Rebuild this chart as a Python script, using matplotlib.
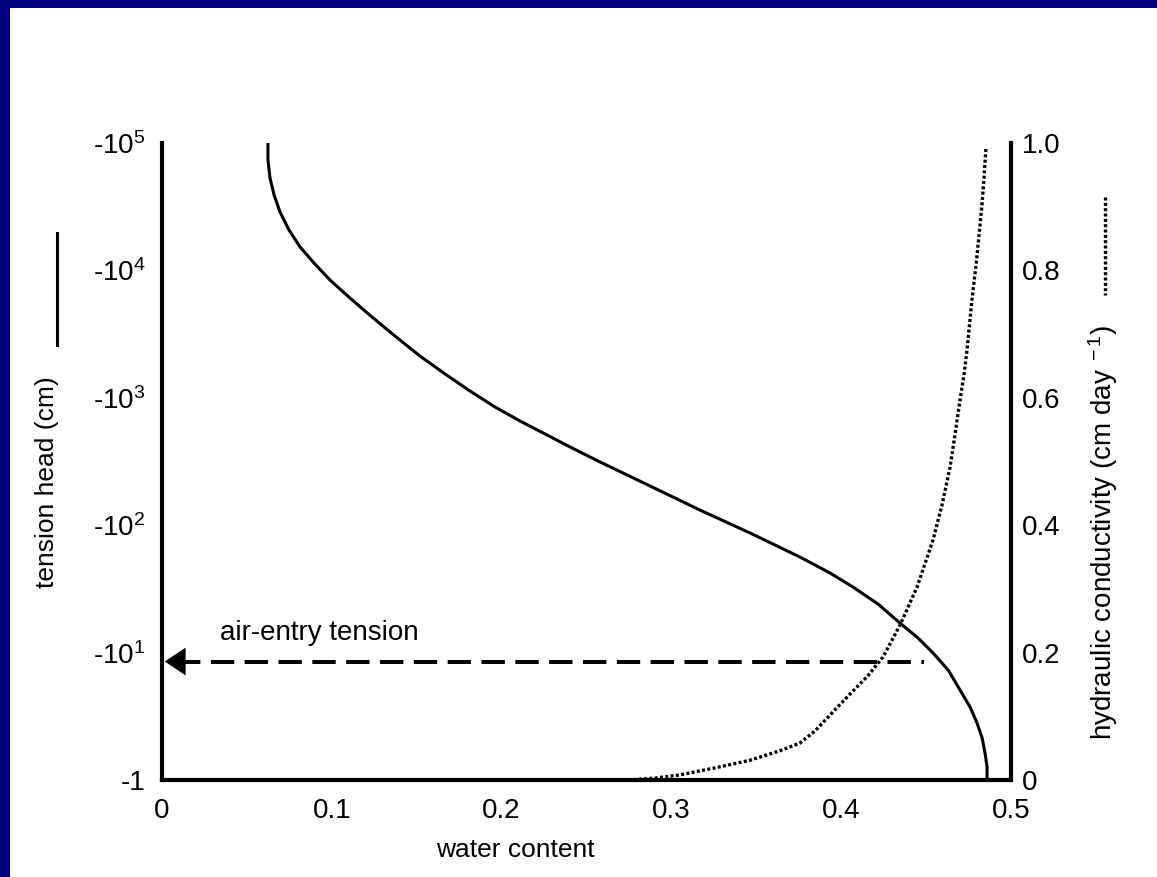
import matplotlib
matplotlib.use("Agg")
import matplotlib.pyplot as plt
from matplotlib.lines import Line2D
from matplotlib.patches import Rectangle

plt.rcParams['font.family'] = ['Liberation Sans', 'DejaVu Sans']
plt.rcParams['mathtext.fontset'] = 'custom'
plt.rcParams['mathtext.rm'] = 'Liberation Sans'
plt.rcParams['mathtext.it'] = 'Liberation Sans'

# retention curve: water content vs log10 of tension head
theta_ret = [0.0624, 0.0624, 0.0636, 0.0660, 0.0695, 0.0748, 0.0813, 0.0895,
             0.0989, 0.1107, 0.1237, 0.1372, 0.1519, 0.1667, 0.1814, 0.1961,
             0.2108, 0.2256, 0.2403, 0.2580, 0.2874, 0.3168, 0.3463, 0.3757,
             0.3934, 0.4069, 0.4217, 0.4346, 0.4452, 0.4541, 0.4630, 0.4700,
             0.4759, 0.4800, 0.4830, 0.4847, 0.4859, 0.4859]
log_head = [5.000, 4.867, 4.725, 4.592, 4.458, 4.317, 4.184, 4.058,
            3.925, 3.783, 3.634, 3.485, 3.328, 3.187, 3.053, 2.928,
            2.818, 2.716, 2.614, 2.496, 2.308, 2.119, 1.939, 1.750,
            1.625, 1.515, 1.381, 1.232, 1.115, 0.997, 0.863, 0.706,
            0.573, 0.447, 0.330, 0.212, 0.102, 0.000]

# hydraulic conductivity vs water content
theta_k = [0.2745, 0.2904, 0.3051, 0.3257, 0.3463, 0.3640, 0.3757, 0.3846,
           0.3952, 0.4052, 0.4152, 0.4246, 0.4346, 0.4447, 0.4541, 0.4594,
           0.4641, 0.4670, 0.4700, 0.4723, 0.4741, 0.4770, 0.4794, 0.4812,
           0.4829, 0.4841, 0.4853]
cond = [0.000, 0.003, 0.008, 0.019, 0.031, 0.046, 0.058, 0.077,
        0.107, 0.135, 0.162, 0.193, 0.243, 0.303, 0.377, 0.432,
        0.491, 0.542, 0.597, 0.636, 0.675, 0.754, 0.808, 0.856,
        0.903, 0.945, 0.994]

air_entry_log = 0.93
air_entry_theta = 0.449

x_ticks = [0, 0.1, 0.2, 0.3, 0.4, 0.5]
x_labels = ['0', '0.1', '0.2', '0.3', '0.4', '0.5']
y_ticks = [0, 1, 2, 3, 4, 5]
y_labels = ['-1', '-10$^1$', '-10$^2$', '-10$^3$', '-10$^4$', '-10$^5$']
k_ticks = [0, 0.2, 0.4, 0.6, 0.8, 1.0]
k_labels = ['0', '0.2', '0.4', '0.6', '0.8', '1.0']

W, H = 1157, 877
fig = plt.figure(figsize=(W / 100, H / 100), dpi=100)
fig.patch.set_facecolor('#000080')
fig.add_artist(Rectangle((10 / W, 0), 1, 1 - 8 / H, transform=fig.transFigure,
                         facecolor='white', edgecolor='none', zorder=-10))

ax = fig.add_axes([162 / W, 1 - 780 / H, 849 / W, 637 / H])
ax.patch.set_alpha(0)
ax2 = ax.twinx()

ax.plot(theta_ret, log_head, color='black', lw=2.2, solid_joinstyle='round')
ax2.plot(theta_k, cond, color='black', lw=2.4, linestyle=(0, (0.9, 0.7)))

# air-entry arrow
ax.plot([0.009, air_entry_theta], [air_entry_log, air_entry_log], color='black',
        lw=2.9, linestyle=(0, (5.8, 2.6)))
ax.annotate('', xy=(0, air_entry_log), xytext=(0.014, air_entry_log),
            arrowprops=dict(arrowstyle='-|>,head_length=0.6,head_width=0.4',
                            mutation_scale=25, color='black', lw=0))
ax.text(0.034, air_entry_log + 0.12, 'air-entry tension', fontsize=20,
        ha='left', va='bottom')

ax.set_xlim(0, 0.5)
ax.set_ylim(0, 5)
ax2.set_ylim(0, 1)
ax.set_xticks(x_ticks)
ax.set_xticklabels(x_labels)
ax.set_yticks(y_ticks)
ax.set_yticklabels(y_labels)
ax2.set_yticks(k_ticks)
ax2.set_yticklabels(k_labels)

ax.tick_params(axis='x', length=0, pad=13, labelsize=20)
ax.tick_params(axis='y', length=0, pad=12, labelsize=20)
ax2.tick_params(axis='y', length=0, pad=8, labelsize=20)

for a in (ax, ax2):
    a.spines['top'].set_visible(False)
    for s in ('left', 'right', 'bottom'):
        a.spines[s].set_linewidth(3)
ax.spines['right'].set_visible(False)
ax2.spines['left'].set_visible(False)
ax2.spines['bottom'].set_visible(False)

ax.text(0.416, -0.11, 'water content', transform=ax.transAxes, fontsize=19,
        ha='center', va='center')
ax.text(-0.1355, 0.468, 'tension head (cm)', transform=ax.transAxes,
        fontsize=19, rotation=90, ha='center', va='center')
ax.text(1.108, 0.389, 'hydraulic conductivity (cm day$^{\\ -1}$)',
        transform=ax.transAxes, fontsize=20, rotation=90, ha='center', va='center')

fig.add_artist(Line2D([57 / W, 57 / W], [1 - 233 / H, 1 - 345 / H],
                      transform=fig.transFigure, color='black', lw=2.2))
fig.add_artist(Line2D([1105 / W, 1105 / W], [1 - 197 / H, 1 - 295 / H],
                      transform=fig.transFigure, color='black', lw=2.4,
                      linestyle=(0, (0.9, 0.7))))

fig.savefig('out.png', dpi=100, facecolor=fig.get_facecolor())
